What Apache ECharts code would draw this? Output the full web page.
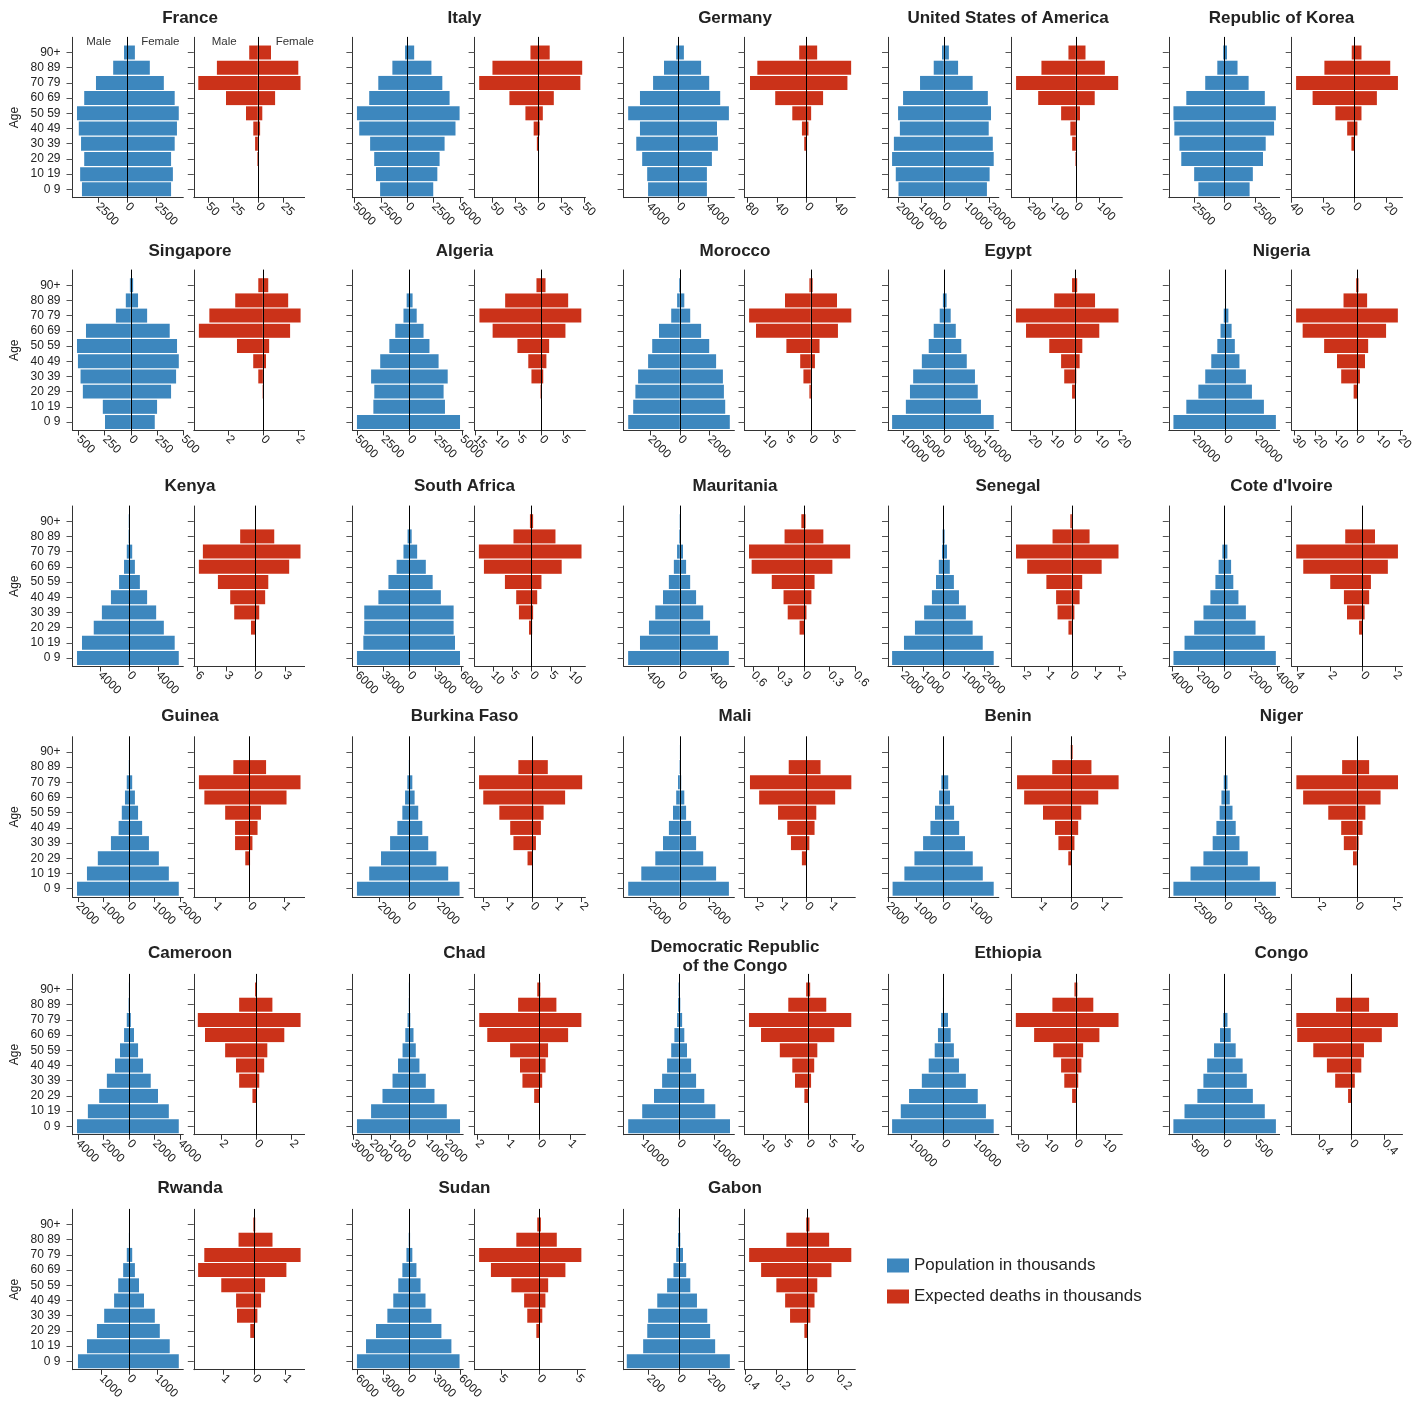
<!DOCTYPE html>
<html>
<head>
<meta charset="utf-8">
<script src="https://cdn.jsdelivr.net/npm/echarts@6/dist/echarts.min.js"></script>
<style>
body{margin:0;background:#fff;}
#main{width:1419px;height:1404px;}
</style>
</head>
<body>
<div id="main"></div>
<script>
var ages = ['0 9','10 19','20 29','30 39','40 49','50 59','60 69','70 79','80 89','90+'];

var countries = ['France','Italy','Germany','United States of America','Republic of Korea',
	'Singapore','Algeria','Morocco','Egypt','Nigeria',
	'Kenya','South Africa','Mauritania','Senegal',"Cote d'Ivoire",
	'Guinea','Burkina Faso','Mali','Benin','Niger',
	'Cameroon','Chad','Democratic Republic\nof the Congo','Ethiopia','Congo',
	'Rwanda','Sudan','Gabon'];

// population in thousands, age groups 0-9 ... 90+
var popMale = [
	[3846,4000,3654,3923,4115,4269,3654,2654,1192,269],
	[2586,2974,3147,3534,4569,4784,3621,2759,1422,216],
	[4066,4187,4858,5650,5153,6737,5153,3396,1933,295],
	[19790,20970,22590,21800,19180,19970,17790,10380,4400,800],
	[2156,2503,3560,3709,4130,4204,3147,1594,603,116],
	[247,268,459,481,506,515,429,143,48,9],
	[5000,3435,3348,3652,2783,1913,1348,565,261,30],
	[3452,3118,2971,2790,2121,1846,1391,575,180,50],
	[12694,9344,8349,7572,5461,3786,2573,1116,340,20],
	[33470,25200,17450,13050,9180,5300,3230,1160,250,60],
	[7190,6500,4875,3750,2500,1375,690,310,60,40],
	[6026,5292,5188,5188,3563,2410,1467,681,210,30],
	[662,510,395,314,215,140,76,35,8,2],
	[2519,1936,1397,946,564,363,225,69,40,10],
	[3894,3052,2318,1614,1086,704,459,176,20,5],
	[2035,1646,1221,708,407,283,159,89,8,2],
	[3538,2708,1908,1292,800,462,277,123,20,5],
	[3452,2576,1639,1124,729,455,241,120,15,3],
	[1835,1411,1050,739,475,311,164,82,10,5],
	[4346,2920,1846,1074,764,495,344,151,10,3],
	[4071,3221,2336,1735,1097,708,389,177,35,10],
	[2780,2025,1415,878,585,342,195,73,10,3],
	[14160,10250,6950,4690,3300,2150,1260,500,250,100],
	[16010,13300,10720,6730,4580,2710,1700,710,150,60],
	[803,629,427,333,274,166,73,22,3,1],
	[1837,1512,1154,894,537,390,211,81,5,2],
	[6079,5022,3859,2537,1850,1269,793,317,53,20],
	[344,236,209,203,143,78,36,18,6,2]
];
var popFemale = [
	[3731,3885,3731,4038,4231,4385,4038,3115,1923,654],
	[2457,2845,3060,3534,4569,4957,4009,3319,2284,647],
	[3825,3825,4496,5301,5180,6777,5610,4133,3047,738],
	[18830,20010,21800,21400,19620,20620,19230,12600,6240,2220],
	[2049,2313,3147,3370,4056,4204,3296,1966,1057,190],
	[229,251,385,433,459,442,372,156,69,22],
	[4826,3391,3261,3652,2783,1913,1348,696,304,50],
	[3346,3038,2951,2884,2429,1967,1425,696,301,60],
	[12014,8907,8130,7451,5461,4126,2791,1553,558,30],
	[32310,24620,16930,13050,8920,5950,3880,1810,300,60],
	[6875,6310,4810,3750,2500,1500,810,440,120,40],
	[5816,5240,5083,5083,3616,2672,1886,891,262,50],
	[629,488,388,300,209,133,81,41,10,2],
	[2470,1931,1436,1103,764,515,314,176,60,10],
	[3894,3052,2349,1614,1048,658,490,207,25,5],
	[1947,1558,1168,779,513,354,230,124,8,2],
	[3415,2646,1846,1292,892,615,369,215,30,5],
	[3285,2429,1566,1090,756,421,301,94,15,3],
	[1799,1407,1046,768,557,375,228,164,10,5],
	[4195,2853,1854,1158,847,579,352,159,15,3],
	[3894,3115,2266,1699,1097,708,389,142,71,10],
	[2732,2025,1366,902,561,366,244,73,10,3],
	[14270,10170,7090,4800,3410,2260,1510,900,390,100],
	[15700,13270,10720,7010,4860,3270,2270,1430,150,60],
	[803,629,442,347,282,173,95,44,4,1],
	[1789,1463,1106,927,537,358,211,114,8,2],
	[5867,4916,3753,2590,1903,1322,846,370,106,20],
	[336,239,206,187,119,75,48,27,9,2]
];

// expected deaths in thousands
var deathMale = [
	[0,0,0.5,2.7,4.5,11.8,31.8,59.5,40.9,8.6],
	[0,0,0.2,1.5,5,14,31.5,64.5,50,8.5],
	[0,0,0.3,3.1,6.2,19.2,42.2,76.2,66.3,9.9],
	[0,0,2,15.9,23.7,63.4,162,257,148,31.9],
	[0,0,0.1,2,4.7,12.2,26.7,37.2,19.2,1.8],
	[0,0,0.02,0.26,0.55,1.48,3.66,3.06,1.58,0.26],
	[0,0,0.2,2.27,2.99,5.46,11.1,14.1,8.25,1.13],
	[0,0,0.3,1.6,2.3,5.3,11.9,13.4,5.6,0.3],
	[0,0,1.3,4.8,6.2,11.5,21.9,26.4,9.3,1.3],
	[0,0,1.9,7.8,9.8,15.9,26.1,29.2,6.7,0.7],
	[0,0,0.47,2.19,2.6,3.86,5.81,5.4,1.58,0.02],
	[0,0,0.7,3.3,4,6.9,12.3,13.6,4.7,0.47],
	[0,0,0.054,0.193,0.242,0.38,0.616,0.647,0.23,0.033],
	[0,0,0.14,0.6,0.66,1.07,1.88,2.35,0.81,0.06],
	[0,0,0.22,0.96,1.15,1.99,3.65,4.08,1.07,0],
	[0,0,0.13,0.43,0.43,0.72,1.33,1.49,0.48,0],
	[0,0,0.19,0.76,0.89,1.33,1.98,2.15,0.56,0],
	[0,0,0.19,0.63,0.78,1.15,1.91,2.28,0.72,0],
	[0,0,0.11,0.43,0.54,0.93,1.54,1.77,0.63,0.03],
	[0,0,0.2,0.69,0.83,1.52,2.86,3.22,0.78,0],
	[0,0,0.23,0.99,1.17,1.79,2.94,3.35,0.99,0.08],
	[0,0,0.16,0.54,0.62,0.94,1.68,1.94,0.68,0.06],
	[0,0,0.8,2.9,3.5,6.3,10.5,13.2,4.4,0.4],
	[0,0,1.3,4,5.1,7.8,14.4,20.7,8.1,0.5],
	[0,0,0.044,0.203,0.305,0.473,0.671,0.682,0.192,0.005],
	[0,0,0.13,0.56,0.59,1.07,1.82,1.62,0.51,0.03],
	[0,0,0.36,1.55,1.96,3.63,6.31,7.86,2.98,0.24],
	[0,0,0.018,0.111,0.143,0.2,0.299,0.377,0.135,0.006]
];
var deathFemale = [
	[0,0,0.2,0.3,2.3,4.5,17.3,42.7,40.5,13.2],
	[0,0,0.1,0.2,1.5,5,17,46,48,12.5],
	[0,0,0.1,0.3,2.6,6.2,22.3,55.1,60.1,14.3],
	[0,0,0.5,0.8,3.9,17.7,81,181.9,124.6,41.4],
	[0,0,0,0.2,1.8,4.4,14.2,27.6,22.7,4.4],
	[0,0,0,0.02,0.18,0.36,1.56,2.16,1.45,0.31],
	[0,0,0.1,0.41,1.13,1.75,5.46,9.07,6.08,0.93],
	[0,0,0.05,0.2,0.9,1.9,5.9,8.8,5.7,0.4],
	[0,0,0.2,0.6,2.1,3.3,10.9,19.5,9,1],
	[0,0,0.1,1.1,3.5,5,13.5,19.1,4.5,0.4],
	[0,0,0.02,0.37,0.98,1.3,3.44,4.6,1.91,0.02],
	[0,0,0.1,0.35,1.4,2.5,7.7,12.8,6.1,0.35],
	[0,0,0.005,0.027,0.085,0.122,0.331,0.54,0.225,0.016],
	[0,0,0.01,0.11,0.33,0.44,1.26,1.97,0.75,0.02],
	[0,0,0.01,0.12,0.4,0.51,1.55,2.17,0.76,0],
	[0,0,0.01,0.08,0.23,0.33,1.08,1.49,0.48,0],
	[0,0,0.01,0.15,0.35,0.46,1.33,2.02,0.63,0],
	[0,0,0.01,0.11,0.32,0.39,1.15,1.8,0.56,0],
	[0,0,0.01,0.09,0.21,0.31,0.86,1.52,0.64,0.03],
	[0,0,0.01,0.1,0.31,0.46,1.27,2.2,0.66,0],
	[0,0,0.01,0.16,0.44,0.62,1.59,2.52,0.91,0.03],
	[0,0,0.01,0.1,0.21,0.29,0.94,1.37,0.56,0.04],
	[0,0,0.05,0.7,1.4,2.1,5.9,9.7,4.1,0.5],
	[0,0,0.05,0.8,1.9,2.5,8.1,14.7,6,0.5],
	[0,0,0.002,0.039,0.119,0.152,0.372,0.57,0.215,0.005],
	[0,0,0.01,0.1,0.22,0.35,1.04,1.5,0.59,0.03],
	[0,0,0.06,0.42,0.83,1.19,3.45,5.54,2.32,0.24],
	[0,0,0.002,0.021,0.048,0.066,0.158,0.287,0.143,0.015]
];

// x axis extents and tick values (male side negative)
var popRange = [
	[-4650,4770],[-5216,5300],[-7350,7515],[-24370,24020],[-4584,4510],
	[-558,502],[-5435,5130],[-3760,3653],[-13690,13250],[-36450,34700],
	[-7810,7500],[-6550,6183],[-720,700],[-2720,2720],[-4250,4180],
	[-2212,2124],[-3846,3662],[-3760,3653],[-2000,1982],[-4732,4505],
	[-4425,4248],[-3024,2902],[-15445,15500],[-17290,17290],[-875,861],
	[-2033,1951],[-6608,6290],[-365,366]
];
var deathRange = [
	[-64,46.8],[-69.5,51.5],[-83.6,65.7],[-276.7,199.6],[-40,30.5],
	[-3.95,2.39],[-15.2,10],[-14.4,9.67],[-28.4,21.2],[-31.3,21.3],
	[-6.33,5.02],[-14.7,13.8],[-0.7,0.6],[-2.54,2.13],[-4.36,2.45],
	[-1.64,1.61],[-2.33,2.15],[-2.5,1.96],[-1.95,1.64],[-3.47,2.44],
	[-3.58,2.75],[-2.09,1.5],[-14.2,10.6],[-22.2,16],[-0.739,0.627],
	[-1.96,1.63],[-8.45,6.07],[-0.407,0.313]
];
var popTicks = [
	[-2500,0,2500],[-5000,-2500,0,2500,5000],[-4000,0,4000],[-20000,-10000,0,10000,20000],[-2500,0,2500],
	[-500,-250,0,250,500],[-5000,-2500,0,2500,5000],[-2000,0,2000],[-10000,-5000,0,5000,10000],[-20000,0,20000],
	[-4000,0,4000],[-6000,-3000,0,3000,6000],[-400,0,400],[-2000,-1000,0,1000,2000],[-4000,-2000,0,2000,4000],
	[-2000,-1000,0,1000,2000],[-2000,0,2000],[-2000,0,2000],[-2000,-1000,0,1000],[-2500,0,2500],
	[-4000,-2000,0,2000,4000],[-3000,-2000,-1000,0,1000,2000],[-10000,0,10000],[-10000,0,10000],[-500,0,500],
	[-1000,0,1000],[-6000,-3000,0,3000,6000],[-200,0,200]
];
var deathTicks = [
	[-50,-25,0,25],[-50,-25,0,25,50],[-80,-40,0,40],[-200,-100,0,100,200],[-40,-20,0,20],
	[-2,0,2],[-15,-10,-5,0,5],[-10,-5,0,5],[-20,-10,0,10,20],[-30,-20,-10,0,10,20],
	[-6,-3,0,3],[-10,-5,0,5,10],[-0.6,-0.3,0,0.3,0.6],[-2,-1,0,1,2],[-4,-2,0,2],
	[-1,0,1],[-2,-1,0,1,2],[-2,-1,0,1,2],[-1,0,1],[-2,0,2],
	[-2,0,2],[-2,-1,0,1],[-10,-5,0,5,10],[-20,-10,0,10],[-0.4,0,0.4],
	[-1,0,1],[-5,0,5],[-0.4,-0.2,0,0.2]
];

var BLUE = '#3d87be';
var RED = '#cb3219';
var FONT = '"Liberation Sans", Arial, Helvetica, sans-serif';

var colPop = [72.5, 352.4, 623.6, 888, 1168.8];
var colDeath = [193.8, 474.6, 744.5, 1011.5, 1291.7];
var titleX = [190, 464.5, 735, 1008, 1281.5];
var rowTop = [37.3, 270, 506, 736.7, 974.3, 1209.3];
var titleY = [18.3, 251, 486, 716.7, 953.3, 1188.3];
var panelW = 110.8, panelH = 160.4;

var grids = [], xAxes = [], yAxes = [], series = [], graphics = [];
var ageIdx = [0,1,2,3,4,5,6,7,8,9];

function renderBars(params, api)
{
	var k = api.value(0);
	var base = api.coord([0, k]);
	var l = api.coord([api.value(1), k]);
	var r = api.coord([api.value(2), k]);
	var h = api.size([0, 1])[1] * 0.92;
	var style = api.style();
	return {type:'group', children:[
		{type:'rect', shape:{x:l[0], y:base[1]-h/2, width:base[0]-l[0], height:h}, style:style},
		{type:'rect', shape:{x:base[0], y:base[1]-h/2, width:r[0]-base[0], height:h}, style:style}
	]};
}

function addPanel(left, top, male, female, range, ticks, color, name, showAge)
{
	var g = grids.length;
	grids.push({left:left, top:top, width:panelW, height:panelH});
	xAxes.push({
		type:'value', gridIndex:g, min:range[0], max:range[1],
		axisLine:{onZero:false, lineStyle:{color:'#333'}},
		axisTick:{customValues:ticks, length:5, lineStyle:{color:'#333'}},
		axisLabel:{customValues:ticks, rotate:-45, margin:7, fontSize:12, color:'#222', fontFamily:FONT,
			formatter:function(v){ return String(Math.abs(v)); }},
		splitLine:{show:false}
	});
	var y0 = yAxes.length;
	yAxes.push({
		type:'value', gridIndex:g, min:-0.55, max:10, position:'left',
		axisLine:{show:true, onZero:false, lineStyle:{color:'#333'}},
		axisTick:{show:true, customValues:ageIdx, length:6, lineStyle:{color:'#555'}},
		axisLabel:{show:showAge, customValues:ageIdx, margin:12, fontSize:12, color:'#222', fontFamily:FONT,
			formatter:function(v){ return ages[v]; }},
		splitLine:{show:false}
	});
	yAxes.push({
		type:'value', gridIndex:g, min:-0.55, max:10, z:5,
		axisLine:{show:true, onZero:true, lineStyle:{color:'#000', width:1}},
		axisTick:{show:false}, axisLabel:{show:false}, splitLine:{show:false}
	});
	var data = [];
	for(var k=0;k<male.length;k++)
	{
		data.push([k, -male[k], female[k]]);
	}
	series.push({
		type:'custom', name:name, xAxisIndex:g, yAxisIndex:y0,
		renderItem:renderBars, encode:{x:[1,2], y:0},
		itemStyle:{color:color}, data:data, silent:true
	});
}

for(var i=0;i<countries.length;i++)
{
	var col = i % 5, row = Math.floor(i / 5);
	addPanel(colPop[col], rowTop[row], popMale[i], popFemale[i], popRange[i], popTicks[i], BLUE, 'Population in thousands', col==0);
	addPanel(colDeath[col], rowTop[row], deathMale[i], deathFemale[i], deathRange[i], deathTicks[i], RED, 'Expected deaths in thousands', false);
	var multi = countries[i].indexOf('\n') >= 0;
	graphics.push({type:'text', x:titleX[col], y:multi ? titleY[row] + 3.7 : titleY[row], silent:true,
		style:{text:countries[i], fontFamily:FONT, fontSize:17, fontWeight:'bold', fill:'#222',
			align:'center', verticalAlign:'middle', lineHeight:19}});
	if(col==0)
	{
		graphics.push({type:'text', x:15, y:rowTop[row] + panelH/2, rotation:Math.PI/2, silent:true,
			style:{text:'Age', fontFamily:FONT, fontSize:12, fill:'#222', align:'center', verticalAlign:'middle'}});
	}
}

var sexLabels = [['Male',98.7],['Female',160.3],['Male',224.2],['Female',294.8]];
for(var j=0;j<sexLabels.length;j++)
{
	graphics.push({type:'text', x:sexLabels[j][1], y:42, silent:true,
		style:{text:sexLabels[j][0], fontFamily:FONT, fontSize:11.5, fill:'#333', align:'center', verticalAlign:'middle'}});
}

var option = {
	animation:false,
	backgroundColor:'#fff',
	grid:grids,
	xAxis:xAxes,
	yAxis:yAxes,
	series:series,
	graphic:graphics,
	legend:{
		data:[{name:'Population in thousands', icon:'rect', itemStyle:{color:BLUE}},
			{name:'Expected deaths in thousands', icon:'rect', itemStyle:{color:RED}}],
		orient:'vertical', left:882, top:1252, padding:5, itemWidth:22, itemHeight:14, itemGap:14,
		selectedMode:false,
		textStyle:{fontSize:17, color:'#222', fontFamily:FONT}
	}
};

var myChart = echarts.init(document.getElementById('main'), null, {renderer:'canvas'});
myChart.setOption(option);
</script>
</body>
</html>
